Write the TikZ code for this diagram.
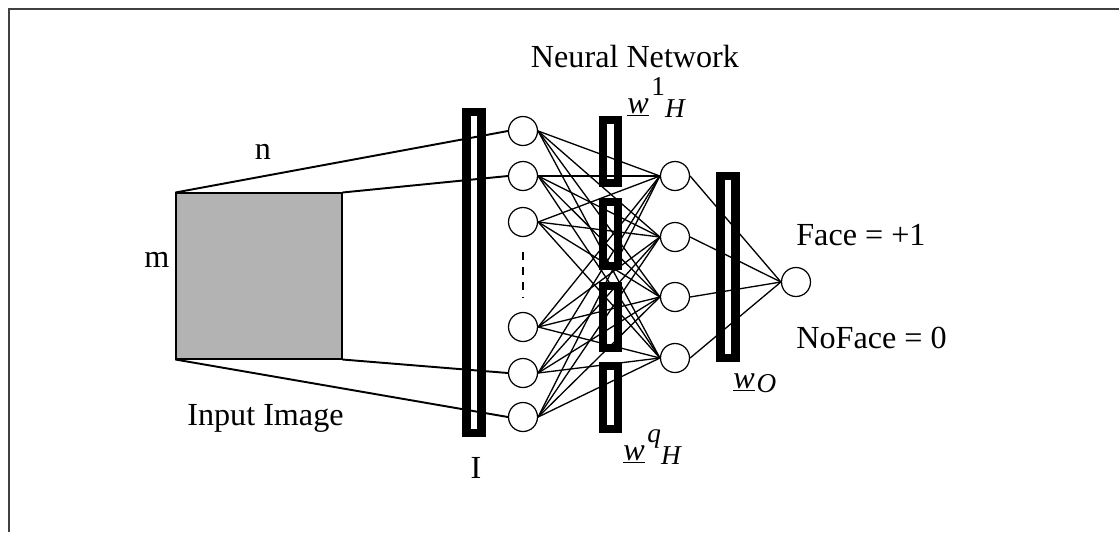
\documentclass[tikz,border=0pt]{standalone}
\usepackage{fontspec}
\setmainfont{Liberation Serif}
\definecolor{imgGray}{RGB}{179,179,179}
\newcommand{\wvec}{\underline{\textit{w}}}
\newcommand{\wsup}[1]{\raisebox{10.2pt}{\fontsize{15.5}{18}\selectfont #1}}
\newcommand{\wsub}[1]{\raisebox{-2.8pt}{\fontsize{15.5}{18}\selectfont\textit{#1}}}
\tikzset{
  nnUnit/.style={circle, draw, line width=0.7pt, minimum size=0.58cm, inner sep=0pt},
  nnBar/.style={draw, line width=4.6pt, minimum width=0.30cm, inner sep=0pt},
  nnEdge/.style={line width=0.75pt},
  nnLabel/.style={inner sep=0pt, font=\fontsize{18.3}{22}\selectfont},
}
\begin{document}
\begin{tikzpicture}[x=0.02cm, y=-0.02cm]
\useasboundingbox (0,0) rectangle (1119,532);
\draw[line width=1.1pt, black!75] (9,532) -- (9,9) -- (1119,9);

% input image
\node[draw, line width=0.6pt, fill=imgGray, minimum width=3.32cm, minimum height=3.32cm, inner sep=0pt] (img) at (259,276) {};

% weight bars
\node[nnBar, minimum height=6.42cm] (barI) at (474,272.5) {};
\foreach \y/\h [count=\k] in {151.5/1.26, 234/1.28, 317/1.24, 397.5/1.26}
  \node[nnBar, minimum height=\h cm] (barH\k) at (610.5,\y) {};
\node[nnBar, minimum height=3.64cm] (barO) at (728,267) {};

% units
\foreach \y [count=\k] in {131,176,222,327,373,417}
  \node[nnUnit] (in\k) at (523,\y) {};
\foreach \y [count=\k] in {176,237,297,358}
  \node[nnUnit] (hid\k) at (675,\y) {};
\node[nnUnit] (out) at (796,282) {};
\draw[line width=0.6pt, dash pattern=on 4.5pt off 4pt] (523,252) -- (523,298);

% image to input layer
\draw[line width=1.1pt] (img.north west) -- (in1.west);
\draw[line width=1.1pt] (img.north east) -- (in2.west);
\draw[line width=1.1pt] (img.south east) -- (in5.west);
\draw[line width=1.1pt] (img.south west) -- (in6.west);

% connections
\foreach \i in {1,...,6}
  \foreach \j in {1,...,4}
    \draw[nnEdge] (in\i.east) -- (hid\j.west);
\foreach \j in {1,...,4}
  \draw[nnEdge] (hid\j.east) -- (out.west);

% labels
\node[nnLabel, anchor=base] (lblN) at (263,159) {n};
\node[nnLabel, anchor=base] (lblM) at (157,267) {m};
\node[nnLabel, anchor=base west] (lblImg) at (187,425) {Input Image};
\node[nnLabel, anchor=base] (lblI) at (476,478) {I};
\node[nnLabel, anchor=base] (lblNet) at (635,67) {Neural Network};
\node[nnLabel, anchor=base west] (lblFace) at (796,245) {Face = +1};
\node[nnLabel, anchor=base west] (lblNoFace) at (796,348) {NoFace = 0};
\node[nnLabel, anchor=base west] (lblW1) at (627,113) {\wvec\hspace{1.5pt}\wsup{1}\wsub{H}};
\node[nnLabel, anchor=base west] (lblWq) at (623,460) {\wvec\hspace{1.5pt}\wsup{\textit{q}}\wsub{H}};
\node[nnLabel, anchor=base west] (lblWO) at (733,388) {\wvec\hspace{1pt}\wsub{O}};
\end{tikzpicture}
\end{document}
